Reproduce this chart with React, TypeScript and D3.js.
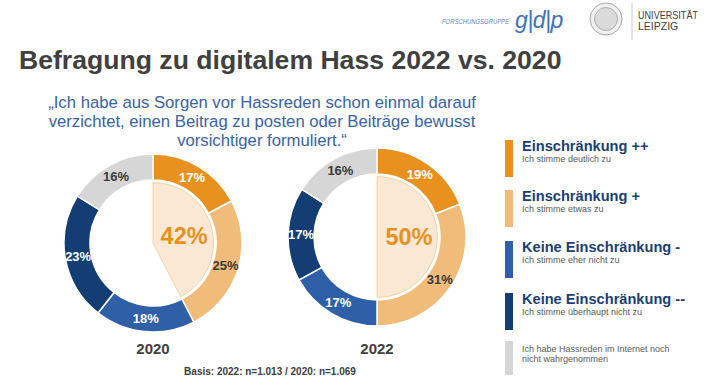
import React from "react";
import * as d3 from "d3";

const categories = ["Einschränkung ++", "Einschränkung +", "Keine Einschränkung -", "Keine Einschränkung --", "Nicht wahrgenommen"];
const subtitles = [["Ich stimme deutlich zu"], ["Ich stimme etwas zu"], ["Ich stimme eher nicht zu"], ["Ich stimme überhaupt nicht zu"], ["Ich habe Hassreden im Internet noch", "nicht wahrgenommen"]];
const values2020 = [17, 25, 18, 23, 16];
const values2022 = [19, 31, 17, 17, 16];
const years = ["2020", "2022"];
const totals = ["42%", "50%"];
const colors = ["#E8911F", "#F1BB79", "#2F5FA7", "#133D73", "#D6D6D6"];
const labelColors = ["#ffffff", "#3A3A3A", "#ffffff", "#ffffff", "#3A3A3A"];

const FONT = "'Liberation Sans', Arial, sans-serif";

function Donut({ values, cx, cy, year, total, yearY }: { values: number[]; cx: number; cy: number; year: string; total: string; yearY: number }) {
  const outerR = 89;
  const innerR = 63;
  const pie = d3.pie<number>().sort(null).value((d) => d);
  const arcs = pie(values);
  const arc = d3.arc<d3.PieArcDatum<number>>().innerRadius(innerR).outerRadius(outerR);
  const wedgeEnd = arcs[1].endAngle;
  const wedge = d3.arc()({ innerRadius: 0, outerRadius: innerR - 2.5, startAngle: 0, endAngle: wedgeEnd } as any) as string;
  const wc = d3.arc().centroid({ innerRadius: 0, outerRadius: 64, startAngle: 0, endAngle: wedgeEnd } as any);
  return (
    <g transform={`translate(${cx},${cy})`}>
      {arcs.map((a, i) => (
        <path key={i} d={arc(a) as string} fill={colors[i]} stroke="#ffffff" strokeWidth={1.5} />
      ))}
      <path d={wedge} fill="#FCE9D5" stroke="#F4D2A8" strokeWidth={1} />
      {arcs.map((a, i) => {
        const [x, y] = arc.centroid(a);
        return (
          <text key={i} x={x} y={y} dy="0.36em" textAnchor="middle" fontFamily={FONT} fontWeight="bold" fontSize={13} fill={labelColors[i]}>
            {values[i]}%
          </text>
        );
      })}
      <text x={wc[0]} y={wc[1]} dy="0.36em" textAnchor="middle" fontFamily={FONT} fontWeight="bold" fontSize={23.5} fill="#E8911F">
        {total}
      </text>
      <text x={0} y={yearY - cy} textAnchor="middle" fontFamily={FONT} fontWeight="bold" fontSize={15} fill="#404040">
        {year}
      </text>
    </g>
  );
}

export default function App() {
  const legendTops = [140, 190, 241, 293, 341];
  return (
    <svg width={710} height={381} style={{ position: "absolute", left: 0, top: 0, background: "#fff" }}>
      {/* logos */}
      <text x={442} y={24} fontFamily={FONT} fontStyle="italic" fontSize={7} fill="#5B86C6" textLength={67} lengthAdjust="spacingAndGlyphs">FORSCHUNGSGRUPPE</text>
      <text x={515} y={28} fontFamily={FONT} fontStyle="italic" fontSize={23} fill="#3F72BC" letterSpacing={-0.5}>g|d|p</text>
      <circle cx={606} cy={19} r={16} fill="#F0F0F0" stroke="#A8A8A8" strokeWidth={1} />
      <circle cx={606} cy={19} r={11.5} fill="#DADADA" stroke="#A0A0A0" strokeWidth={0.8} />
      <line x1={632} y1={3} x2={632} y2={40} stroke="#C8C8C8" strokeWidth={1} />
      <text x={638} y={19} fontFamily={FONT} fontSize={10.5} fill="#404040" textLength={60} lengthAdjust="spacingAndGlyphs">UNIVERSITÄT</text>
      <text x={638} y={30} fontFamily={FONT} fontSize={10.5} fill="#404040">LEIPZIG</text>

      {/* title */}
      <text x={19} y={69} fontFamily={FONT} fontWeight="bold" fontSize={26.6} fill="#404040">
        Befragung zu digitalem Hass 2022 vs. 2020
      </text>

      {/* quote */}
      {["„Ich habe aus Sorgen vor Hassreden schon einmal darauf", "verzichtet, einen Beitrag zu posten oder Beiträge bewusst", "vorsichtiger formuliert.“"].map((l, i) => (
        <text key={i} x={262} y={108 + i * 19} textAnchor="middle" fontFamily={FONT} fontSize={16.7} fill="#3A63A3">
          {l}
        </text>
      ))}

      <Donut values={values2020} cx={153} cy={243} year={years[0]} total={totals[0]} yearY={354} />
      <Donut values={values2022} cx={377} cy={237} year={years[1]} total={totals[1]} yearY={354} />

      <text x={270} y={375} textAnchor="middle" fontFamily={FONT} fontWeight="bold" fontSize={10} fill="#404040">
        Basis: 2022: n=1.013 / 2020: n=1.069
      </text>

      {/* legend */}
      {categories.map((c, i) => {
        const top = legendTops[i];
        const isLast = i === 4;
        return (
          <g key={i}>
            <rect x={505} y={top} width={8} height={isLast ? 34 : 37} fill={colors[i]} />
            {!isLast && (
              <text x={522} y={top + 11} fontFamily={FONT} fontWeight="bold" fontSize={14.6} fill="#1B3F72">
                {c}
              </text>
            )}
            {subtitles[i].map((s, j) => (
              <text key={j} x={522} y={isLast ? top + 11 + j * 9.5 : top + 22} fontFamily={FONT} fontSize={9} fill="#595959">
                {s}
              </text>
            ))}
          </g>
        );
      })}
    </svg>
  );
}
